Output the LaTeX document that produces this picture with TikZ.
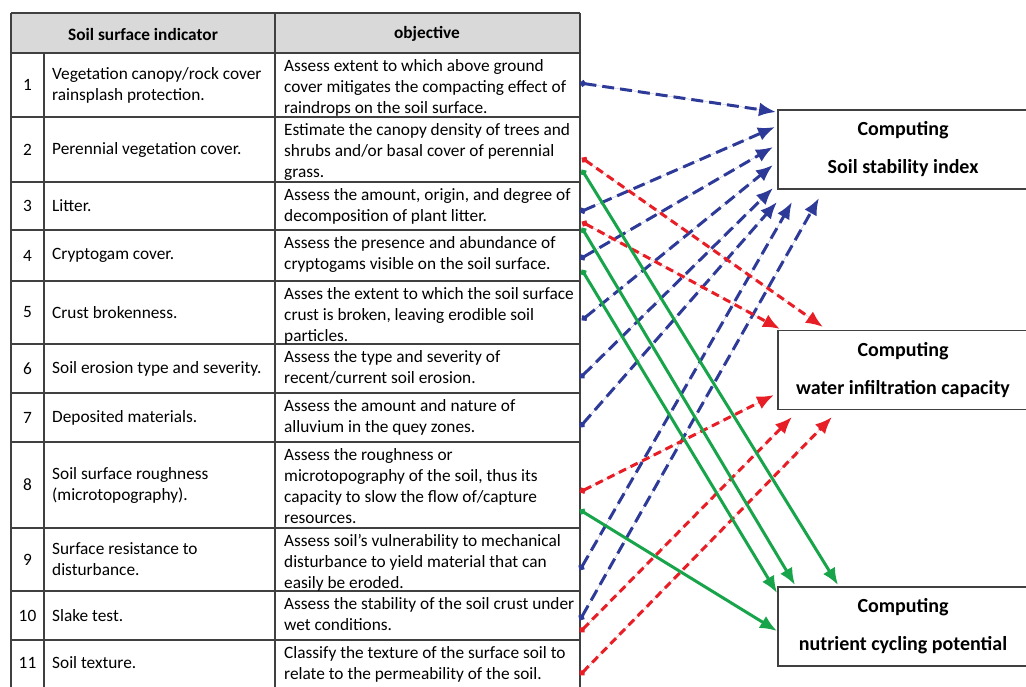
\documentclass[tikz,border=0pt]{standalone}
\usepackage{fontspec}
\setmainfont{Carlito}
\usetikzlibrary{arrows.meta}

\definecolor{linkblue}{RGB}{46,58,152}
\definecolor{linkred}{RGB}{232,30,38}
\definecolor{linkgreen}{RGB}{24,164,74}
\definecolor{headgray}{RGB}{217,217,217}
\definecolor{rulegray}{RGB}{64,64,64}

\tikzset{
  tableline/.style={rulegray, line width=1.4pt},
  headtext/.style={font=\fontsize{17.3}{21}\selectfont\bfseries, inner sep=0pt},
  numtext/.style={font=\fontsize{17.3}{21}\selectfont, inner sep=0pt},
  indtext/.style={font=\fontsize{17.3}{21}\selectfont, anchor=west, align=left, inner sep=0pt},
  objtext/.style={font=\fontsize{17.3}{21}\selectfont, anchor=north west, align=left, inner sep=0pt},
  compbox/.style={draw=rulegray, line width=1.4pt, minimum width=250pt, minimum height=79pt,
    align=center, font=\fontsize{20}{24}\selectfont\bfseries},
  bluelink/.style={draw=linkblue, fill=linkblue, line width=3pt, dash pattern=on 12pt off 6pt,
    arrows={Circle[length=6pt]-Latex[length=17pt,width=14pt]}},
  redlink/.style={draw=linkred, fill=linkred, line width=3pt, dash pattern=on 8pt off 5pt,
    arrows={Circle[length=6pt]-Latex[length=17pt,width=14pt]}},
  greenlink/.style={draw=linkgreen, fill=linkgreen, line width=3pt,
    arrows={Circle[length=6pt]-Latex[length=17pt,width=14pt]}}
}

\begin{document}
\begin{tikzpicture}[x=1pt,y=-1pt]
\useasboundingbox (0,0) rectangle (1026,686);

% table
\fill[headgray] (11,13) rectangle (580,53);
\foreach \y in {13,53,117,182,230,281,344,393,442,528,591,640}
  \draw[tableline] (11,\y) -- (580,\y);
\draw[tableline] (11,13) -- (11,690);
\draw[tableline] (44,53) -- (44,690);
\draw[tableline] (275,13) -- (275,690);
\draw[tableline] (580,13) -- (580,690);

\node[headtext] (hind) at (143,34) {Soil surface indicator};
\node[headtext] (hobj) at (427,34) {objective};

\foreach \n/\top/\bot/\ind/\obj in {
  1/53/117/{Vegetation canopy/rock cover\\rainsplash protection.}/{Assess extent to which above ground\\cover mitigates the compacting effect of\\raindrops on the soil surface.},
  2/117/182/{Perennial vegetation cover.}/{Estimate the canopy density of trees and\\shrubs and/or basal cover of perennial\\grass.},
  3/182/230/{Litter.}/{Assess the amount, origin, and degree of\\decomposition of plant litter.},
  4/230/281/{Cryptogam cover.}/{Assess the presence and abundance of\\cryptogams visible on the soil surface.},
  5/281/344/{Crust brokenness.}/{Asses the extent to which the soil surface\\crust is broken, leaving erodible soil\\particles.},
  6/344/393/{Soil erosion type and severity.}/{Assess the type and severity of\\recent/current soil erosion.},
  7/393/442/{Deposited materials.}/{Assess the amount and nature of\\alluvium in the quey zones.},
  8/442/528/{Soil surface roughness\\(microtopography).}/{Assess the roughness or\\microtopography of the soil, thus its\\capacity to slow the flow of/capture\\resources.},
  9/528/591/{Surface resistance to\\disturbance.}/{Assess soil’s vulnerability to mechanical\\disturbance to yield material that can\\easily be eroded.},
  10/591/640/{Slake test.}/{Assess the stability of the soil crust under\\wet conditions.},
  11/640/686/{Soil texture.}/{Classify the texture of the surface soil to\\relate to the permeability of the soil.}} {
  \node[numtext] (num\n) at (27.5,{(\top+\bot)/2}) {\n};
  \node[indtext] (ind\n) at (52,{(\top+\bot)/2}) {\ind};
  \node[objtext] (obj\n) at (284,{\top+4}) {\strut\obj};
}

% computing boxes
\node[compbox] (stab) at (903,149.5) {Computing\\[14pt]Soil stability index};
\node[compbox] (infil) at (903,370) {Computing\\[14pt]water infiltration capacity};
\node[compbox] (nutr) at (903,626.5) {Computing\\[14pt]nutrient cycling potential};

% link ends
\foreach \nm/\p in {bs1/{580,83}, bs3/{580,212}, bs4/{580,259}, bs5/{582,320},
  bs6/{580,378}, bs7/{580,427}, bs9/{580,570}, bs10/{580,620},
  be1/{776,112}, be3/{775,127}, be4/{773,147}, be5/{773,165},
  be6/{773,188}, be7/{777,202}, be9/{792,202}, be10/{819,198},
  rs2/{582,158}, rs3/{582,222}, rs8/{580,492}, rs10/{580,632}, rs11/{580,675},
  re2/{823,327}, re3/{780,329}, re8/{774,395}, re10/{792,417}, re11/{832,417},
  gs2/{582,170}, gs3/{582,228}, gs4/{582,270}, gs8/{580,510},
  ge2/{838,585}, ge3/{795,585}, ge4/{777,593}, ge8/{777,631}}
  \coordinate (\nm) at (\p);

% links
\foreach \a/\b in {bs1/be1, bs3/be3, bs4/be4, bs5/be5, bs6/be6, bs7/be7, bs9/be9, bs10/be10}
  \draw[bluelink] (\a) -- (\b);
\foreach \a/\b in {rs2/re2, rs3/re3, rs8/re8, rs10/re10, rs11/re11}
  \draw[redlink] (\a) -- (\b);
\foreach \a/\b in {gs2/ge2, gs3/ge3, gs4/ge4, gs8/ge8}
  \draw[greenlink] (\a) -- (\b);

\end{tikzpicture}
\end{document}
